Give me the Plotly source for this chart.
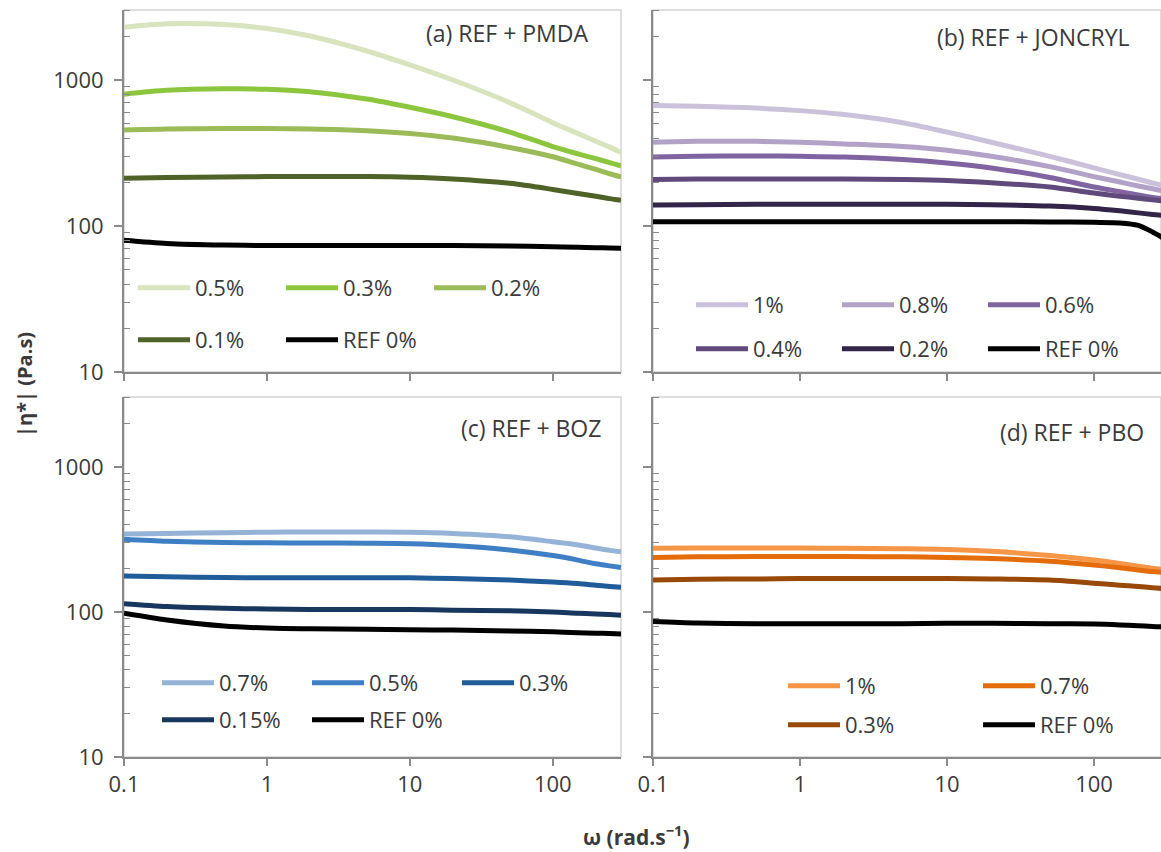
import math
import plotly.graph_objects as go

# ---------------- data ----------------
omega = [0.1, 0.2, 0.5, 1, 2, 5, 10, 20, 50, 100, 150, 200, 250, 300]

# (a) REF + PMDA
pmda_labels = ["0.5%", "0.3%", "0.2%", "0.1%", "REF 0%"]
pmda_05 = [2300, 2430, 2400, 2250, 2000, 1580, 1270, 1000, 700, 510, 430, 381, 347, 320]
pmda_03 = [800, 850, 870, 865, 830, 740, 650, 560, 440, 350, 312, 289, 272, 258]
pmda_02 = [455, 462, 465, 465, 462, 450, 430, 400, 345, 298, 265, 244, 228, 217]
pmda_01 = [212, 215, 217, 218, 218, 218, 216, 210, 196, 178, 167, 160, 154, 150]
pmda_ref = [80, 76, 74, 73.5, 73.5, 73.5, 73.5, 73.5, 73, 72, 71.5, 71, 70.7, 70.5]
pmda_colors = ["#d7e4bd", "#8cc63f", "#9bbb59", "#4f6228", "#000000"]

# (b) REF + JONCRYL
jon_labels = ["1%", "0.8%", "0.6%", "0.4%", "0.2%", "REF 0%"]
jon_1 = [668, 660, 642, 617, 580, 510, 440, 375, 300, 250, 225, 209, 197, 188]
jon_08 = [375, 380, 380, 375, 365, 350, 330, 300, 255, 218, 200, 188, 180, 173]
jon_06 = [297, 300, 302, 300, 297, 285, 270, 250, 215, 185, 172, 163, 157, 153]
jon_04 = [208, 210, 210, 210, 210, 208, 205, 198, 185, 168, 160, 155, 151, 148]
jon_02 = [139, 140, 141, 141, 141, 141, 141, 140, 137, 132, 127, 123, 120, 118]
jon_ref = [107, 107, 107, 107, 107, 107, 107, 107, 106.5, 106, 105, 101, 91, 82]
jon_colors = ["#ccc1da", "#b3a2c7", "#8064a2", "#604a7b", "#33244a", "#000000"]

# (c) REF + BOZ
boz_labels = ["0.7%", "0.5%", "0.3%", "0.15%", "REF 0%"]
boz_07 = [345, 348, 352, 355, 356, 356, 355, 348, 330, 305, 290, 276, 266, 260]
boz_05 = [318, 308, 302, 300, 299, 298, 296, 288, 268, 245, 228, 215, 208, 203]
boz_03 = [177, 175, 173, 172, 172, 172, 172, 170, 166, 161, 157, 153, 150, 148]
boz_015 = [114, 109, 106, 105, 104, 104, 104, 103, 102, 100, 98, 97, 96, 95]
boz_ref = [98, 88, 80, 77.5, 76.5, 76, 75.5, 75, 74, 73, 72, 71.5, 71, 70.5]
boz_colors = ["#95b3d7", "#3f7fc4", "#1f5c99", "#17375e", "#000000"]

# (d) REF + PBO
pbo_labels = ["1%", "0.7%", "0.3%", "REF 0%"]
pbo_1 = [275, 276, 276, 276, 275, 273, 270, 262, 245, 228, 216, 207, 200, 196]
pbo_07 = [238, 240, 241, 241, 241, 240, 238, 234, 224, 211, 202, 195, 190, 187]
pbo_03 = [166, 168, 169, 170, 170, 170, 170, 169, 166, 158, 153, 150, 147, 145]
pbo_ref = [86, 84, 83, 83, 83, 83, 83.5, 83.5, 83, 82.5, 81.5, 80.5, 79.5, 79]
pbo_colors = ["#f79646", "#e46c0a", "#984807", "#000000"]

panel_titles = ["(a) REF + PMDA", "(b) REF + JONCRYL", "(c) REF + BOZ", "(d) REF + PBO"]
x_ticks = [0.1, 1, 10, 100]
x_ticklabels = ["0.1", "1", "10", "100"]
y_ticks = [10, 100, 1000]
y_ticklabels = ["10", "100", "1000"]

# ---------------- figure ----------------
W, H = 1161, 852
FONT = "Open Sans"
TXT = "#3a3a3a"
AXC = "#8a8a8a"

panels = [
    dict(series=[pmda_05, pmda_03, pmda_02, pmda_01, pmda_ref], labels=pmda_labels,
         colors=pmda_colors, xa="x", ya="y", ncol=3,
         leg=[(133, 288), (133, 340)], ew=81),
    dict(series=[jon_1, jon_08, jon_06, jon_04, jon_02, jon_ref], labels=jon_labels,
         colors=jon_colors, xa="x2", ya="y2", ncol=3,
         leg=[(691, 305), (691, 349)], ew=79),
    dict(series=[boz_07, boz_05, boz_03, boz_015, boz_ref], labels=boz_labels,
         colors=boz_colors, xa="x3", ya="y3", ncol=3,
         leg=[(157, 683), (157, 720)], ew=83),
    dict(series=[pbo_1, pbo_07, pbo_03, pbo_ref], labels=pbo_labels,
         colors=pbo_colors, xa="x4", ya="y4", ncol=2,
         leg=[(783, 686), (783, 725)], ew=128),
]

fig = go.Figure()
layout_legends = {}
leg_idx = 1
for p in panels:
    names = []
    for r, (lx, ly) in enumerate(p["leg"]):
        name = "legend" if leg_idx == 1 else f"legend{leg_idx}"
        names.append(name)
        layout_legends[name] = dict(
            x=lx / W, y=1 - ly / H, xanchor="left", yanchor="middle",
            orientation="h", bgcolor="rgba(0,0,0,0)", borderwidth=0,
            itemwidth=52, entrywidth=p["ew"], entrywidthmode="pixels",
            font=dict(family=FONT, size=22, color=TXT), traceorder="normal",
            itemclick=False, itemdoubleclick=False,
        )
        leg_idx += 1
    for i, (vals, lab, col) in enumerate(zip(p["series"], p["labels"], p["colors"])):
        fig.add_trace(go.Scatter(
            x=omega, y=vals, name=lab, mode="lines",
            line=dict(color=col, width=5, shape="spline", smoothing=0.8),
            xaxis=p["xa"], yaxis=p["ya"],
            legend=names[0] if i < p["ncol"] else names[1],
        ))

xdom_l = [124 / W, 621 / W]
xdom_r = [653 / W, 1.0]
ydom_t = [1 - 372 / H, 1 - 10 / H]
ydom_b = [1 - 757 / H, 1 - 397 / H]
xr_l = [-1, math.log10(300)]
xr_r = [-1, -1 + (W - 653) / 147]
yr_t = [1, 1 + 362 / 146]
yr_b = [1, 1 + 360 / 145]

minor_vals = [v * m for v in (10, 100, 1000) for m in range(2, 10)]


def xaxis(dom, rng, anchor, labels):
    return dict(type="log", domain=dom, range=rng, anchor=anchor, automargin=False,
                tickvals=x_ticks, ticktext=x_ticklabels, showticklabels=labels,
                ticks="outside", ticklen=7, tickwidth=1.5, tickcolor=AXC,
                showline=True, linecolor=AXC, linewidth=2, showgrid=False,
                zeroline=False, tickfont=dict(family=FONT, size=22, color=TXT))


def yaxis(dom, rng, anchor, labels):
    return dict(type="log", domain=dom, range=rng, anchor=anchor, automargin=False,
                tickvals=y_ticks, ticktext=y_ticklabels, showticklabels=labels,
                ticks="outside", ticklen=8, tickwidth=1.5, tickcolor=AXC,
                minor=dict(tickvals=minor_vals, ticks="inside", ticklen=6,
                           tickwidth=1.2, tickcolor=AXC, showgrid=False),
                showline=True, linecolor=AXC, linewidth=2, showgrid=False,
                zeroline=False, ticklabelstandoff=6,
                tickfont=dict(family=FONT, size=22, color=TXT))


fig.update_layout(
    width=W, height=H, margin=dict(l=0, r=0, t=0, b=0, autoexpand=False),
    paper_bgcolor="white", plot_bgcolor="white",
    xaxis=xaxis(xdom_l, xr_l, "y", False),
    xaxis2=xaxis(xdom_r, xr_r, "y2", False),
    xaxis3=xaxis(xdom_l, xr_l, "y3", True),
    xaxis4=xaxis(xdom_r, xr_r, "y4", True),
    yaxis=yaxis(ydom_t, yr_t, "x", True),
    yaxis2=yaxis(ydom_t, yr_t, "x2", False),
    yaxis3=yaxis(ydom_b, yr_b, "x3", True),
    yaxis4=yaxis(ydom_b, yr_b, "x4", False),
    showlegend=True,
    **layout_legends,
)

# light panel frames
for xa, ya in [("x", "y"), ("x2", "y2"), ("x3", "y3"), ("x4", "y4")]:
    fig.add_shape(type="rect", xref=f"{xa} domain", yref=f"{ya} domain",
                  x0=0, x1=1, y0=0, y1=1, line=dict(color="#d4d4d4", width=1.5),
                  layer="below")

title_pos = [(590, 33), (1132, 37), (603, 428), (1146, 432)]
for t, (tx, ty) in zip(panel_titles, title_pos):
    fig.add_annotation(text=t, x=tx / W, y=1 - ty / H, xref="paper", yref="paper",
                       xanchor="right", yanchor="middle", showarrow=False,
                       font=dict(family=FONT, size=23, color=TXT))

fig.add_annotation(text="<b>|η*| (Pa.s)</b>", x=24 / W, y=1 - 385 / H, xref="paper",
                   yref="paper", textangle=-90, showarrow=False,
                   xanchor="center", yanchor="middle",
                   font=dict(family=FONT, size=20, color=TXT))
fig.add_annotation(text="<b>ω (rad.s<sup>−1</sup>)</b>", x=636 / W, y=1 - 835 / H,
                   xref="paper", yref="paper", showarrow=False,
                   xanchor="center", yanchor="middle",
                   font=dict(family=FONT, size=21, color=TXT))

fig.write_html("out.html", config={"displayModeBar": False},
               post_script="document.body.style.margin='0px';document.body.style.overflow='hidden';")
